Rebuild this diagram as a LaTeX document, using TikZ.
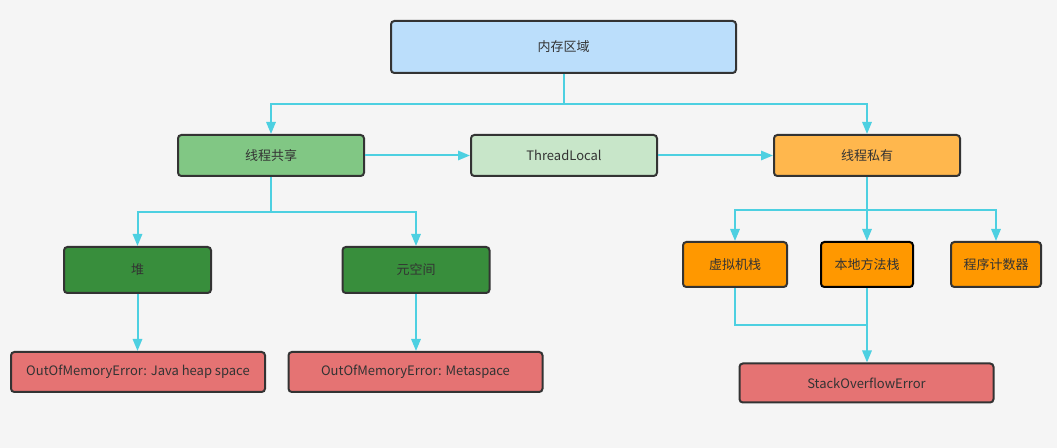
\documentclass[tikz,border=0pt]{standalone}
\usepackage{fontspec}
\setmainfont{Noto Sans CJK SC}
\usetikzlibrary{arrows.meta}
\definecolor{bgcol}{HTML}{F5F5F5}
\definecolor{linkcol}{HTML}{4DD0E1}
\definecolor{boxline}{HTML}{333333}
\definecolor{txtcol}{HTML}{333333}
\definecolor{regionfill}{HTML}{BBDEFB}
\definecolor{sharedfill}{HTML}{81C784}
\definecolor{localfill}{HTML}{C8E6C9}
\definecolor{privatefill}{HTML}{FFB74D}
\definecolor{darkgreen}{HTML}{388E3C}
\definecolor{orangefill}{HTML}{FF9800}
\definecolor{errorfill}{HTML}{E57373}
\tikzset{
	box/.style={draw=boxline, line width=1.5pt, rounded corners=2.5pt, text=txtcol,
		font=\fontsize{9.75}{12}\selectfont, inner sep=0pt},
	region/.style={box, fill=regionfill, minimum width=258.75pt, minimum height=39pt},
	shared/.style={box, fill=sharedfill, minimum width=139.5pt, minimum height=30.75pt},
	local/.style={box, fill=localfill, minimum width=139.5pt, minimum height=30.75pt},
	private/.style={box, fill=privatefill, minimum width=139.5pt, minimum height=30.75pt},
	sharedpart/.style={box, fill=darkgreen, minimum width=110.25pt, minimum height=34.5pt},
	privpart/.style={box, fill=orangefill, minimum height=33.75pt},
	error/.style={box, fill=errorfill, minimum width=190.5pt, minimum height=30pt},
	link/.style={draw=linkcol, line width=1.5pt, -{Triangle[length=9pt,width=7pt]}},
	plainlink/.style={draw=linkcol, line width=1.5pt}
}
\begin{document}
\begin{tikzpicture}[x=0.75pt, y=-0.75pt]
	\fill[bgcol] (0,0) rectangle (1057,448);

	\node[region] (mem) at (563.5,47) {内存区域};

	\node[shared] (share) at (271,155.5) {线程共享};
	\node[local] (tl) at (564,155.5) {ThreadLocal};
	\node[private] (priv) at (867,155.5) {线程私有};

	\node[sharedpart] (heap) at (137.5,270) {堆};
	\node[sharedpart] (meta) at (416,270) {元空间};
	\node[privpart, minimum width=78pt] (vm) at (735,264.5) {虚拟机栈};
	\node[privpart, minimum width=69pt, draw=black] (native) at (867,264.5) {本地方法栈};
	\node[privpart, minimum width=67.5pt] (pc) at (996,264.5) {程序计数器};

	\node[error] (oomh) at (138,372) {OutOfMemoryError: Java heap space};
	\node[error] (oomm) at (415.5,372) {OutOfMemoryError: Metaspace};
	\node[error, minimum height=29.25pt] (soe) at (866.5,383) {StackOverflowError};

	\coordinate (join) at (867,325);

	\draw[link] (mem.south) -- ++(0,30) -| (share.north);
	\draw[link] (mem.south) -- ++(0,30) -| (priv.north);
	\draw[link] (share.east) -- (tl.west);
	\draw[link] (tl.east) -- (priv.west);

	\draw[link] (share.south) -- ++(0,35) -| (heap.north);
	\draw[link] (share.south) -- ++(0,35) -| (meta.north);
	\draw[link] (priv.south) -- ++(0,33) -| (vm.north);
	\draw[link] (priv.south) -- (native.north);
	\draw[link] (priv.south) -- ++(0,33) -| (pc.north);

	\draw[link] (heap.south) -- (heap.south |- oomh.north);
	\draw[link] (meta.south) -- (meta.south |- oomm.north);
	\draw[plainlink] (vm.south) |- (join);
	\draw[link] (native.south) -- (native.south |- soe.north);
\end{tikzpicture}
\end{document}
